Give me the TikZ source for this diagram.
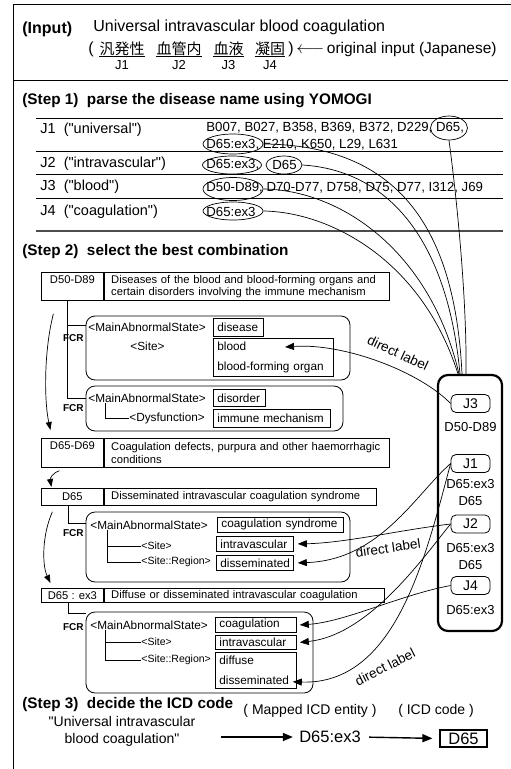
\documentclass[tikz,border=0pt]{standalone}
\usepackage{fontspec}
\setmainfont{Liberation Sans}
\newfontfamily\jpfont{Noto Sans CJK JP}
\usetikzlibrary{arrows.meta,positioning,shapes.geometric}

\newcommand{\szbig}{\fontsize{16}{19}\selectfont}
\newcommand{\szhead}{\fontsize{15.3}{18}\selectfont\bfseries}
\newcommand{\szjp}{\fontsize{15}{18}\selectfont\jpfont}
\newcommand{\szlab}{\fontsize{13}{16}\selectfont}
\newcommand{\szrow}{\fontsize{14.5}{17}\selectfont}
\newcommand{\szcode}{\fontsize{13.2}{16}\selectfont}
\newcommand{\szcat}{\fontsize{11.2}{12.5}\selectfont}
\newcommand{\szslot}{\fontsize{11.8}{14}\selectfont}
\newcommand{\szsub}{\fontsize{10.5}{13}\selectfont}
\newcommand{\szfcr}{\fontsize{10}{12}\selectfont\bfseries}
\newcommand{\szj}{\fontsize{14}{17}\selectfont}
\newcommand{\szres}{\fontsize{13}{17}\selectfont}
\newcommand{\szdl}{\fontsize{13.5}{16}\selectfont}
\newcommand{\szq}{\fontsize{14}{17}\selectfont}
\newcommand{\szent}{\fontsize{16.5}{19}\selectfont}
\newcommand{\dq}{\textquotedbl}

\begin{document}
\begin{tikzpicture}[x=1pt, y=-1pt, line width=0.8pt, inner sep=0pt,
    stephead/.style={anchor=west, font=\szhead},
    plain/.style={anchor=west},
    codering/.style={ellipse, draw, line width=0.7pt},
    maplink/.style={line width=0.7pt},
    catcode/.style={draw, anchor=north west, minimum width=62pt, inner sep=2pt, font=\szcat},
    catdesc/.style={draw, inner xsep=7pt, inner ysep=2pt, align=left, font=\szcat},
    fcrbox/.style={draw, rounded corners=9pt},
    slotlabel/.style={anchor=west, font=\szslot},
    sublabel/.style={anchor=west, font=\szsub},
    valbox/.style={draw, anchor=north west, inner xsep=4pt, inner ysep=1pt, align=left, font=\szslot},
    fcrlabel/.style={anchor=east, font=\szfcr},
    fcrtree/.style={line width=0.7pt},
    hierarrow/.style={line width=0.7pt, -{Triangle[length=8pt,width=6pt]}},
    jbox/.style={draw, rounded corners=5pt, minimum width=39pt, minimum height=18pt, font=\szj},
    jcode/.style={align=center, font=\szres},
    directlink/.style={line width=0.7pt, -{Triangle[length=9pt,width=7pt]}},
    dlabel/.style={font=\szdl},
    flowarrow/.style={line width=1.4pt, -{Triangle[length=10pt,width=8pt]}}]

  \useasboundingbox (0,0) rectangle (511,769);
  \clip (0,0) rectangle (511,769);
  \draw[line width=1.2pt] (13.5,4.5) rectangle (540,800);

  % (Input)
  \node[stephead, font=\szbig\bfseries] (hin) at (22,29)  {(Input)};
  \node[plain, font=\szbig]             (inp) at (93,27)  {Universal intravascular blood coagulation};
  \node[plain, font=\szbig]             (lp)  at (88,49)  {(};
  \node[font=\szjp]                     (w1)  at (122,49) {汎発性};
  \node[font=\szjp]                     (w2)  at (179,49) {血管内};
  \node[font=\szjp]                     (w3)  at (228.5,49) {血液};
  \node[font=\szjp]                     (w4)  at (270,49) {凝固};
  \node[plain, font=\szbig]             (rp)  at (288,49) {)\,$\longleftarrow$\,\fontsize{15.5}{19}\selectfont original input (Japanese)};
  \foreach \i in {1,...,4} {
    \draw[line width=1pt] (w\i.south west) -- (w\i.south east);
    \node[font=\szlab, below=4pt of w\i] (jl\i) {J\i};
  }
  \draw (13.5,80) -- (508,80);

  % (Step 1)
  \node[stephead] (h1) at (22,101) {(Step 1)\ \ parse the disease name using YOMOGI};
  \foreach \y in {118,151,174,198}
    \draw (36,\y) -- (503,\y);
  \draw[line width=1.6pt, black!70] (36,231) -- (503,231);

  \node[plain, font=\szrow]  (p1)  at (40,130)  {J1\ \ (\dq universal\dq)};
  \node[plain, font=\szrow]  (p2)  at (40,164)  {J2\ \ (\dq intravascular\dq)};
  \node[plain, font=\szrow]  (p3)  at (40,187)  {J3\ \ (\dq blood\dq)};
  \node[plain, font=\szrow]  (p4)  at (40,212)  {J4\ \ (\dq coagulation\dq)};
  \node[plain, font=\szcode] (k1a) at (206,128) {B007, B027, B358, B369, B372, D229, D65,};
  \node[plain, font=\szcode] (k1b) at (206,145) {D65:ex3, E210, K650, L29, L631};
  \node[plain, font=\szcode] (k2a) at (206,165) {D65:ex3,};
  \node[plain, font=\szcode] (k2b) at (272,165) {D65};
  \node[plain, font=\szcode] (k3)  at (206,188) {D50-D89, D70-D77, D758, D75, D77, I312, J69};
  \node[plain, font=\szcode] (k4)  at (206,212) {D65:ex3};

  \node[codering, minimum width=37pt, minimum height=24pt] (r1) at (449,128) {};
  \node[codering, minimum width=60pt, minimum height=20pt] (r2) at (233,144) {};
  \node[codering, minimum width=59pt, minimum height=18pt] (r3) at (232,165) {};
  \node[codering, minimum width=36pt, minimum height=18pt] (r4) at (284,165) {};
  \node[codering, minimum width=60pt, minimum height=23pt] (r5) at (233,189) {};
  \node[codering, minimum width=60pt, minimum height=18pt] (r6) at (233,211) {};

  % result box
  \node[draw, line width=2.2pt, rounded corners=10pt, minimum width=64pt, minimum height=256pt] (res) at (470,503) {};

  \draw[maplink] (r1.south) .. controls (457,200) and (467,300) .. ([xshift=-4pt]res.north);
  \draw[maplink] (r2.east)  .. controls (400,145) and (455,230) .. ([xshift=-8pt]res.north);
  \draw[maplink] (r4.east)  .. controls (385,170) and (447,235) .. ([xshift=-10pt]res.north);
  \draw[maplink] (r5.east)  .. controls (340,190) and (430,250) .. ([xshift=-11pt]res.north);
  \draw[maplink] (r6.east)  .. controls (330,212) and (422,260) .. ([xshift=-12pt]res.north);

  % (Step 2)
  \node[stephead] (h2) at (22,252) {(Step 2)\ \ select the best combination};

  \node[catcode, text height=9pt, text depth=15pt] (c1) at (41,272) {D50-D89};
  \node[catdesc, text width=271pt, minimum height=28pt, right=0pt of c1] (d1)
    {Diseases of the blood and blood-forming organs and\\certain disorders involving the immune mechanism};
  \node[catcode, text height=9pt, text depth=16pt] (c2) at (41,438) {D65-D69};
  \node[catdesc, text width=271pt, minimum height=29pt, right=0pt of c2] (d2)
    {Coagulation defects, purpura and other haemorrhagic\\conditions};
  \node[catcode, minimum height=17pt] (c3) at (41,488) {D65};
  \node[catdesc, text width=258pt, minimum height=17pt, right=0pt of c3] (d3)
    {Disseminated intravascular coagulation syndrome};
  \node[catcode, minimum height=14pt] (c4) at (41,588) {D65 : ex3};
  \node[catdesc, text width=266pt, minimum height=14pt, right=0pt of c4] (d4)
    {Diffuse or disseminated intravascular coagulation};

  \draw[hierarrow] ([xshift=-19pt,yshift=-13pt]c1.south) .. controls (44,350) and (44,400) .. ([xshift=-22pt,yshift=8pt]c2.north);
  \draw[hierarrow] ([xshift=-13pt,yshift=-3pt]c2.south) .. controls (52,473) and (50,479) .. ([xshift=-21pt,yshift=1pt]c3.north);
  \draw[hierarrow] ([xshift=-20pt,yshift=-6pt]c3.south) .. controls (42,535) and (42,565) .. ([xshift=-22pt,yshift=5pt]c4.north);

  % FCR of D50-D89
  \node[fcrbox, minimum width=264pt, minimum height=64pt] (f1) at (218,348) {};
  \node[fcrbox, minimum width=257pt, minimum height=45pt] (f2) at (214.5,408.5) {};
  \draw[fcrtree] ([xshift=-5pt]c1.south) |- ([yshift=23pt]f1.west);
  \draw[fcrtree] ([xshift=-5pt]c1.south) |- ([yshift=10.5pt]f2.west);
  \node[fcrlabel] (l1) at (84,338) {FCR};
  \node[fcrlabel] (l2) at (84,408) {FCR};

  \node[slotlabel] (m1)  at (88,327)  {<MainAbnormalState>};
  \node[valbox, text width=42pt, minimum height=18pt]  (v1m) at (213,318) {disease};
  \node[slotlabel] (s1)  at (130,346) {<Site>};
  \node[valbox, text width=112pt, minimum height=38pt] (v1s) at (213,338) {blood\\[6pt]blood-forming organ};

  \node[slotlabel] (m2)  at (88,398)  {<MainAbnormalState>};
  \node[valbox, text width=44pt, minimum height=17pt]  (v2m) at (213,389) {disorder};
  \node[slotlabel] (s2)  at (129,418) {<Dysfunction>};
  \node[valbox, text width=109pt, minimum height=18pt] (v2s) at (213,409) {immune mechanism};
  \draw[fcrtree] ([xshift=17pt]m2.south west) |- (s2.west);

  % FCR of D65
  \node[fcrbox, minimum width=264pt, minimum height=70pt] (f3) at (218,547) {};
  \draw[fcrtree] ([xshift=-4pt]c3.south) |- ([yshift=24pt]f3.west);
  \node[fcrlabel] (l3) at (84,533) {FCR};
  \node[slotlabel] (m3)  at (90,525)  {<MainAbnormalState>};
  \node[valbox, text width=118pt, minimum height=15pt] (v3m) at (217,517) {coagulation syndrome};
  \node[sublabel]  (s3)  at (141,546) {<Site>};
  \node[sublabel]  (g3)  at (141,562) {<Site::Region>};
  \node[valbox, text width=69pt, minimum height=15pt]  (v3s) at (216,536) {intravascular};
  \node[valbox, text width=69pt, minimum height=15pt]  (v3r) at (216,555) {disseminated};
  \draw[fcrtree] ([xshift=17pt]m3.south west) |- (s3.west);
  \draw[fcrtree] ([xshift=17pt]m3.south west) |- (g3.west);

  % FCR of D65:ex3
  \node[fcrbox, minimum width=227pt, minimum height=81pt] (f4) at (199.5,652.5) {};
  \draw[fcrtree] ([xshift=-4pt]c4.south) |- ([yshift=39.5pt]f4.west);
  \node[fcrlabel] (l4) at (84,627) {FCR};
  \node[slotlabel] (m4)  at (90,625)  {<MainAbnormalState>};
  \node[valbox, text width=73pt, minimum height=15pt]  (v4m) at (215,617) {coagulation};
  \node[sublabel]  (s4)  at (141,642) {<Site>};
  \node[sublabel]  (g4)  at (141,660) {<Site::Region>};
  \node[valbox, text width=73pt, minimum height=14pt]  (v4s) at (215,635) {intravascular};
  \node[valbox, text width=73pt, minimum height=36pt]  (v4r) at (215,652) {diffuse\\[6pt]disseminated};
  \draw[fcrtree] ([xshift=15pt]m4.south west) |- (s4.west);
  \draw[fcrtree] ([xshift=15pt]m4.south west) |- (g4.west);

  % mapped entities
  \node[jbox] (t3) at (470.5,403.5) {J3};
  \node[jcode, below=9pt of t3]  (u3) {D50-D89};
  \node[jbox] (t1) at (470.5,463.5) {J1};
  \node[jcode, below=6pt of t1]  (u1) {D65:ex3\\D65};
  \node[jbox] (t2) at (470.5,524)   {J2};
  \node[jcode, below=10pt of t2] (u2) {D65:ex3\\D65};
  \node[jbox] (t4) at (470.5,585.5) {J4};
  \node[jcode, below=10pt of t4] (u4) {D65:ex3};

  \draw[directlink] (t3.west) .. controls (420,372) and (345,343) .. ([xshift=72pt,yshift=-9pt]v1s.north west);
  \draw[directlink] (t2.west) .. controls (400,530) and (345,543) .. ([xshift=4pt]v3s.east);
  \draw[directlink] (t1.west) .. controls (415,495) and (380,560) .. ([xshift=4pt]v3r.east);
  \draw[directlink] (t4.west) .. controls (400,595) and (345,622) .. ([xshift=3pt]v4m.east);
  \draw[directlink] (t2.west) .. controls (425,555) and (370,635) .. ([xshift=3pt]v4s.east);
  \draw[directlink] (t1.west) .. controls (425,560) and (395,685) .. ([xshift=-4pt,yshift=7pt]v4r.south east);

  \node[dlabel, rotate=-25] (n1) at (398,353) {direct label};
  \node[dlabel, rotate=8]   (n2) at (388,548) {direct label};
  \node[dlabel, rotate=27]  (n3) at (385,667) {direct label};

  % (Step 3)
  \node[stephead] (h3) at (22,705) {(Step 3)\ \ decide the ICD code};
  \node[font=\szq, align=center] (qt)  at (122,731.5) {\dq Universal intravascular\\blood coagulation\dq};
  \node[font=\szq]               (le)  at (310,711)   {( Mapped ICD entity )};
  \node[font=\szq]               (lc)  at (436,711)   {( ICD code )};
  \node[font=\szent]             (ent) at (330,737)   {D65:ex3};
  \node[draw, line width=1.2pt, minimum width=47pt, minimum height=17pt, font=\szent] (icd) at (463.5,738.5) {D65};

  \draw[flowarrow, shorten <=25pt, shorten >=6pt] (qt.east |- ent.west) -- (ent.west);
  \draw[flowarrow, shorten <=8pt, shorten >=7pt]  (ent.east) -- (icd.west);
\end{tikzpicture}
\end{document}
